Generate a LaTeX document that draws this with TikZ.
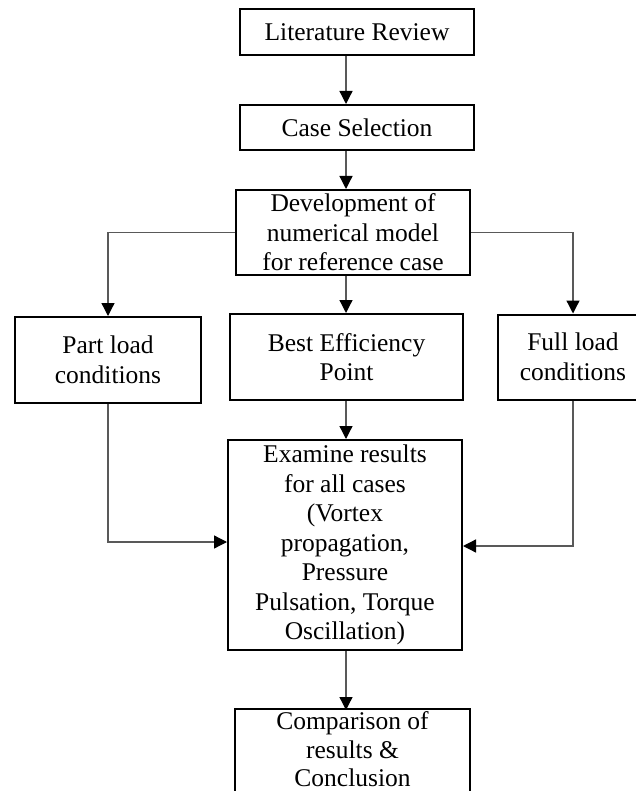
\documentclass[tikz,border=0pt]{standalone}
\usepackage{fontspec}
\setmainfont{Liberation Serif}
\usetikzlibrary{arrows.meta}
\tikzset{
  box/.style={draw=black, line width=2pt, inner sep=1pt, align=center,
    font=\fontsize{25.5}{29.5}\selectfont, fill=white},
  link/.style={draw=black!65, line width=1.3pt, -{Triangle[length=13pt,width=13pt,color=black]}}
}
\begin{document}
\begin{tikzpicture}[x=1pt,y=-1pt]
\useasboundingbox (0,0) rectangle (636,791);
\coordinate (spine) at (346,0);
\node[box, minimum width=234, minimum height=46] (lit) at (357,32) {Literature Review};
\node[box, minimum width=234, minimum height=45] (cs) at (357,127.5) {Case Selection};
\node[box, minimum width=234, minimum height=85] (dev) at (353,232.5) {Development of\\numerical model\\for reference case};
\node[box, minimum width=186, minimum height=86] (part) at (108,360) {Part load\\conditions};
\node[box, minimum width=233, minimum height=86] (bep) at (346.5,357) {Best Efficiency\\Point};
\node[box, minimum width=150, minimum height=85] (full) at (573,357) {Full load\\conditions};
\node[box, minimum width=234, minimum height=210] (exam) at (345,545) {Examine results\\for all cases\\(Vortex\\propagation,\\Pressure\\Pulsation, Torque\\Oscillation)};
\node[box, draw=none, font=\fontsize{25.5}{28.5}\selectfont, minimum width=233, minimum height=79, anchor=north] (comp) at (352.5,709) {Comparison of\\results \&\\Conclusion};
\draw[line width=2pt] (comp.north west) rectangle ([yshift=-20pt]comp.south east);
\draw[link] (lit.south -| spine) -- (cs.north -| spine);
\draw[link] (cs.south -| spine) -- (dev.north -| spine);
\draw[link] (dev.south -| spine) -- (bep.north -| spine);
\draw[link] (dev.west) -| (part.north);
\draw[link] (dev.east) -| (full.north);
\draw[link] (bep.south -| spine) -- (exam.north -| spine);
\draw[link] (part.south) |- ([yshift=3pt]exam.west);
\draw[link] (full.south) |- ([yshift=-1pt]exam.east);
\draw[link] (exam.south -| spine) -- ([yshift=-1pt]comp.north -| spine);
\end{tikzpicture}
\end{document}
